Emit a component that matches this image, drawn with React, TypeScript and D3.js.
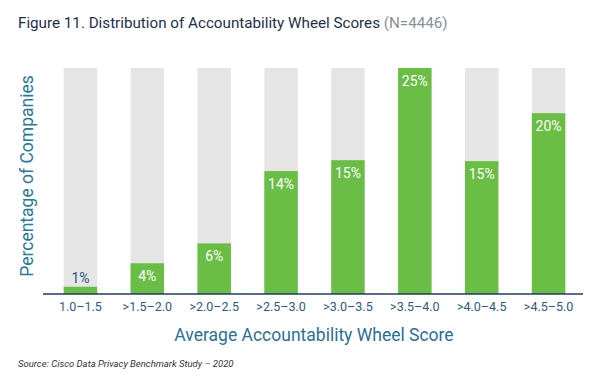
import React from "react";
import * as d3 from "d3";

const categories = [
  "1.0–1.5",
  ">1.5–2.0",
  ">2.0–2.5",
  ">2.5–3.0",
  ">3.0–3.5",
  ">3.5–4.0",
  ">4.0–4.5",
  ">4.5–5.0",
];
const values = [0.8, 3.4, 5.6, 13.6, 14.8, 25, 14.7, 20];
const labels = ["1%", "4%", "6%", "14%", "15%", "25%", "15%", "20%"];
const maxValue = 25;

const W = 608;
const H = 387;
const font = "Roboto, 'Open Sans', sans-serif";

const App = () => {
  const x = d3
    .scaleBand<string>()
    .domain(categories)
    .range([47, 582])
    .paddingInner(0.5)
    .paddingOuter(0.25);
  const y = d3.scaleLinear().domain([0, maxValue]).range([294, 68]);
  const bw = x.bandwidth();

  return (
    <div style={{ position: "absolute", left: 0, top: 0 }}>
      <svg width={W} height={H} style={{ display: "block", background: "#fff" }}>
        <text x={18} y={28} fontFamily={font} fontSize={15.2} fill="#1d2f4b">
          Figure 11. Distribution of Accountability Wheel Scores{" "}
          <tspan fill="#8a9099">(N=4446)</tspan>
        </text>

        {categories.map((c, i) => {
          const x0 = x(c) as number;
          const top = y(values[i]);
          const inside = top < y(0) - 20;
          return (
            <g key={c}>
              <rect x={x0} y={y(maxValue)} width={bw} height={y(0) - y(maxValue)} fill="#e5e5e5" />
              <rect x={x0} y={top} width={bw} height={y(0) - top} fill="#6abd45" />
              <text
                x={x0 + bw / 2}
                y={inside ? top + 18 : top - 4}
                textAnchor="middle"
                fontFamily={font}
                fontSize={14}
                fill={inside ? "#ffffff" : "#2c5577"}
              >
                {labels[i]}
              </text>
              <text
                x={x0 + bw / 2}
                y={311}
                textAnchor="middle"
                fontFamily={font}
                fontSize={12.5}
                fill="#2d5a80"
              >
                {c}
              </text>
            </g>
          );
        })}

        <line x1={43} x2={583} y1={294} y2={294} stroke="#1f3d5c" strokeWidth={1.3} />

        <text
          x={314}
          y={341}
          textAnchor="middle"
          fontFamily={font}
          fontSize={17.5}
          fill="#2b6f95"
        >
          Average Accountability Wheel Score
        </text>
        <text
          transform="translate(33,176) rotate(-90)"
          textAnchor="middle"
          fontFamily={font}
          fontSize={17.5}
          fill="#2a7a96"
        >
          Percentage of Companies
        </text>

        <text x={18} y={367} fontFamily={font} fontSize={9.5} fontStyle="italic" fill="#333">
          Source: Cisco Data Privacy Benchmark Study – 2020
        </text>
      </svg>
    </div>
  );
};

export default App;
